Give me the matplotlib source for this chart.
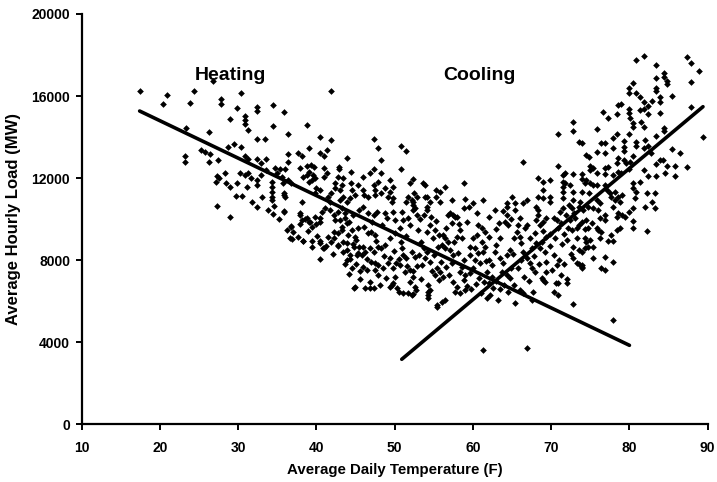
import matplotlib
matplotlib.use("Agg")
import matplotlib.pyplot as plt

plt.rcParams['font.family'] = ['Liberation Sans', 'DejaVu Sans']
plt.rcParams['font.weight'] = 'bold'

# cold days (heating side)
cold_temp = [
    17.4, 20.4, 20.9, 24.3, 23.8, 26.8, 27.8, 27.8, 30.3, 29.9, 32.4, 32.4, 34.4, 35.9, 41.9,
    28.9, 30.9, 30.9, 30.9, 31.3, 23.3, 26.3, 34.4, 36.4, 38.8, 40.5, 41.9, 28.7, 29.4, 30.3,
    32.4, 33.4, 25.3, 25.8, 26.4, 23.2, 23.2, 26.3, 27.4, 30.9, 31.3, 32.4, 32.9, 33.6, 36.3,
    37.7, 38.1, 39.0, 40.4, 40.9, 43.9, 27.3, 27.6, 28.3, 27.2, 28.5, 28.9, 29.8, 30.2, 30.9,
    31.3, 31.6, 32.4, 32.4, 32.9, 33.6, 34.3, 34.3, 34.3, 34.3, 34.3, 34.7, 34.9, 35.6, 35.7,
    36.3, 36.8, 35.8, 36.0, 35.8, 34.4, 32.4, 31.7, 30.5, 29.7, 27.3, 28.9, 36.8, 37.0, 37.9,
    38.1, 38.8, 39.2, 36.9, 38.3, 39.4, 40.5,
    47.4, 47.9, 48.3, 50.8, 51.4, 50.8, 41.4, 42.9, 42.9, 44.4, 45.9, 46.8, 47.4, 48.3, 36.4,
    35.3, 36.0, 37.9, 38.8, 39.3, 39.7, 39.0, 39.5, 39.8, 40.9, 41.3, 40.9, 42.8, 43.4, 42.4,
    43.2, 42.4, 43.0, 44.4, 45.3, 45.9, 44.6, 44.9, 44.3, 46.1, 46.6, 47.4, 47.9, 47.5, 48.3,
    49.4, 49.8, 49.4, 49.8, 49.6, 51.9, 52.4, 52.5, 52.8, 52.4, 35.8, 38.1, 38.3, 38.8, 39.4,
    39.0, 40.0, 40.5, 39.8, 41.5, 41.9, 41.7, 43.4, 43.0, 43.9, 47.5, 48.8, 49.2, 51.5, 51.7,
    34.6, 33.8, 33.1, 31.1, 35.2, 36.2,
]
cold_load = [
    16270, 15620, 16060, 16270, 15680, 16740, 15880, 15620, 16140, 15410, 15490, 15290, 15570, 15240, 16270,
    14870, 15050, 14840, 14640, 14350, 14460, 14270, 14540, 14150, 14580, 13990, 13860, 13530, 13670, 13530,
    13890, 13890, 13370, 13290, 13180, 13080, 12770, 12770, 12890, 13080, 12920, 12920, 12730, 12920, 13180,
    13210, 13080, 13490, 13240, 13080, 12970, 12120, 12010, 12270, 11830, 11750, 11590, 11750, 12240, 12160,
    12240, 11990, 11910, 11670, 12160, 12400, 11830, 11590, 11340, 11100, 10940, 12480, 12240, 12070, 11780,
    11910, 11780, 11260, 11100, 10410, 10250, 10610, 10850, 11150, 11150, 10660, 10120, 9630, 9390, 10290,
    9960, 10040, 9880, 9020, 8950, 8950, 8950,
    13930, 13490, 12890, 13580, 13330, 12430, 13370, 12560, 12450, 12320, 12040, 12270, 12430, 12270, 12800,
    12430, 12430, 12480, 12590, 12640, 12530, 12320, 12160, 11990, 12480, 12270, 12070, 12070, 11990, 11750,
    11670, 11510, 11420, 11750, 11670, 11420, 11420, 11180, 11020, 11180, 11100, 11670, 11830, 11420, 11260,
    11910, 11590, 11340, 11020, 10850, 11780, 11950, 11260, 11100, 10850, 11180, 10850, 12070, 12160, 11910,
    11830, 11510, 11420, 11260, 11100, 11260, 10850, 11100, 10940, 10850, 11180, 11510, 11100, 10850, 11100,
    10650, 10450, 11100, 11550, 10000, 9450,
]

# cool-to-mild days, lower part of the heating cloud
mild_temp = [
    35.9, 37.9, 38.5, 39.0, 36.8, 37.9, 39.4, 40.0, 40.5, 39.8, 40.5, 40.7, 41.1, 41.7, 42.2,
    42.8, 43.2, 43.6, 42.4, 43.0, 43.6, 44.1, 44.7, 45.4, 45.9, 46.6, 47.3, 47.7, 48.8, 49.0,
    49.8, 50.0, 50.9, 51.7, 52.4, 52.8, 36.6, 38.3, 39.4, 40.5, 40.4, 40.9, 41.5, 42.2, 42.8,
    43.2, 42.2, 42.8, 43.4, 43.9, 44.3, 43.9, 44.9, 44.7, 45.5, 46.0, 46.2, 45.3, 45.8, 46.0,
    46.4, 44.9, 46.2, 46.8, 47.3, 46.6, 47.0, 47.5, 46.8, 47.3, 47.9, 48.3, 48.8, 47.0, 47.5,
    47.9, 47.5, 47.9, 48.5, 49.2, 49.4, 49.8, 50.0, 49.6, 50.3, 50.5, 49.4, 50.0, 50.7, 50.9,
    51.1, 51.5, 52.2, 52.6, 50.7, 51.3, 51.9, 52.4, 51.9, 51.7, 52.4, 52.6, 44.5, 45.3, 43.2,
    43.9, 41.9, 42.8, 43.4, 43.9, 44.3, 44.8, 45.2, 44.8, 40.8, 49.4, 49.8, 51.1, 52.2,
    44.2, 45.0, 45.6, 46.9, 48.1, 48.9, 50.2, 50.8, 51.4, 52.0, 48.4, 47.1, 46.1, 45.1, 44.0,
    47.6, 48.6, 49.9, 50.6, 51.6, 52.3, 46.5, 45.6, 44.6, 43.6, 42.1, 41.2, 40.1, 38.9, 37.6,
]
mild_load = [
    10370, 10210, 10010, 9880, 9680, 9750, 9630, 9750, 9880, 10120, 10040, 10370, 10530, 10450, 10210,
    10370, 10530, 10290, 9960, 9960, 10040, 9880, 10210, 10450, 10610, 10290, 10210, 10370, 10290, 10040,
    10370, 9960, 10370, 10040, 10450, 10210, 9070, 8940, 8660, 8830, 8060, 8580, 9150, 9390, 9310,
    9470, 9070, 8740, 8900, 8500, 8260, 8010, 9150, 8780, 8660, 8660, 8420, 8340, 8260, 7690,
    7520, 6710, 6660, 6660, 6660, 9310, 9390, 9230, 8580, 8420, 8660, 8580, 8740, 7930, 7850,
    7770, 7520, 7280, 7610, 7850, 8090, 7610, 7200, 6790, 6630, 6470, 9070, 9310, 9560, 8580,
    8260, 8090, 8420, 8170, 7770, 7440, 7520, 7200, 6950, 6390, 6340, 6710, 9470, 9560, 9630,
    9800, 8900, 8690, 8420, 8830, 8050, 8660, 8260, 6660, 8580, 6710, 6880, 6390, 6300,
    7350, 7800, 7100, 6950, 6800, 7150, 7850, 8900, 9200, 9700, 9700, 9850, 9600, 9000, 9250,
    8950, 8200, 8450, 8050, 7700, 7450, 8050, 7450, 7600, 7800, 8300, 8700, 9200, 9400, 9150,
]

# mild days around the balance point
balance_temp = [
    54.1, 53.7, 56.8, 57.7, 57.3, 58.8, 58.3, 57.9, 58.6, 54.5, 55.1, 55.6, 54.9, 54.1, 56.2,
    56.4, 56.8, 56.0, 56.4, 57.1, 57.5, 53.7, 54.1, 53.9, 54.5, 53.5, 55.4, 55.8, 55.2, 56.2,
    55.6, 54.3, 54.5, 54.3, 55.4, 56.0, 56.4, 57.5, 57.9, 57.7, 58.3, 59.0, 58.3, 59.0, 59.6,
    60.0, 58.8, 59.6, 60.3, 60.9, 60.0, 60.5, 61.1, 61.5, 60.3, 60.7, 61.1, 61.5, 62.0, 61.3,
    62.0, 62.4, 61.8, 62.4, 62.0, 62.6, 62.2, 63.0, 63.5, 62.8, 63.5, 63.9, 64.3, 64.7, 63.7,
    64.3, 64.7, 65.2, 64.5, 65.4, 65.2, 65.6, 66.0, 66.2, 64.1, 64.3, 64.5, 66.0, 66.6, 66.9,
    65.4, 64.3, 67.3, 67.9, 68.1, 67.5, 66.9, 67.3, 67.5, 67.9, 66.4, 66.2, 66.0, 66.4, 67.5,
    68.1, 68.3, 68.6, 69.0, 69.4, 68.8, 69.4, 69.2, 69.4, 69.4, 68.8, 69.2, 70.3, 70.7, 70.9,
    70.5, 70.3, 70.7, 70.9, 70.3, 70.9, 61.3, 66.9, 68.3, 68.1, 71.1, 71.5, 53.6, 53.9, 55.3,
    55.8, 56.4, 53.9, 55.3, 55.8, 57.3, 58.8, 61.3, 64.3, 65.0, 65.4, 66.4, 66.9, 66.4, 68.3,
    68.9, 69.8, 68.9, 68.3, 68.9, 69.8, 69.8, 70.9, 70.9, 71.5, 71.5, 71.5, 71.5, 71.5, 52.2,
    52.4, 52.6, 54.1, 54.5, 54.1, 57.1, 57.5, 57.9, 61.8, 63.2, 54.3, 54.3, 55.4, 67.7, 69.0,
    53.0, 53.3, 53.1, 52.9, 53.4, 52.7, 54.8, 55.0, 55.5, 55.9, 56.6, 56.9, 57.3, 57.6, 58.1,
    58.6, 58.9, 59.3, 59.8, 60.4, 60.8, 61.4, 61.0, 61.7, 60.6, 59.3, 59.6, 58.2, 56.5, 55.3,
    54.7, 53.2, 51.0, 62.9, 63.3, 63.8, 64.9, 65.8, 65.1, 65.8, 66.5, 67.1, 67.8, 68.4, 68.6,
    69.0, 69.8, 69.9, 70.1, 70.6, 71.2, 71.0, 71.4, 71.7, 71.3, 71.9, 72.3, 72.9, 72.5, 71.6,
    64.0, 63.4, 63.0, 64.9, 62.0, 62.8, 60.5, 59.5, 60.0, 59.0,
]
balance_load = [
    10450, 10210, 10210, 10120, 9800, 10530, 9470, 9150, 9070, 9720, 9470, 9230, 9070, 9390, 9230,
    9070, 8900, 8740, 8580, 8500, 8260, 8580, 8420, 8090, 7930, 7770, 7610, 7440, 7280, 7200,
    7040, 6790, 6550, 6300, 5820, 5980, 6060, 6950, 6710, 6470, 6390, 6550, 7440, 7280, 7360,
    7610, 8010, 8260, 8010, 7850, 9070, 9230, 8900, 8660, 8580, 8340, 9560, 9390, 9150, 8420,
    8010, 7770, 7440, 7200, 6880, 6630, 6300, 8740, 9070, 8420, 8090, 7850, 8260, 8500, 7440,
    7280, 7120, 6790, 6470, 5900, 9070, 9390, 9150, 8830, 9880, 10210, 9720, 10040, 9560, 9720,
    10450, 10610, 9070, 9310, 8830, 8580, 8090, 7850, 7610, 7440, 8420, 8010, 6550, 6390, 6060,
    9960, 10210, 9720, 9880, 10040, 8900, 9150, 8420, 7930, 7440, 7120, 6950, 10040, 9960, 9560,
    9070, 8260, 7770, 6880, 6470, 6300, 3620, 3710, 10450, 10610, 10370, 10530, 11780, 11670, 11420,
    11340, 11560, 11070, 11100, 10850, 10940, 11750, 10940, 10780, 11100, 10810, 10810, 10940, 12800, 11990,
    11830, 11910, 11420, 11100, 11020, 11100, 10850, 14140, 12590, 12160, 11830, 11590, 11340, 11020, 10940,
    10690, 10530, 11100, 10850, 10610, 10290, 10210, 10120, 6140, 6060, 6470, 6140, 5740, 6470, 7040,
    9450, 8900, 8250, 7700, 7100, 6550, 7450, 8250, 8650, 7900, 7650, 7300, 7850, 8900, 8350,
    7650, 7050, 6750, 6600, 6850, 7150, 6950, 6400, 7950, 9700, 9850, 8650, 9750, 9550, 9900,
    10100, 10000, 9950, 9500, 9800, 10400, 10000, 9700, 8300, 7600, 7200, 7000, 8200, 7800, 8600,
    9400, 9300, 8700, 7500, 6900, 7300, 8000, 8800, 9300, 9800, 10200, 10700, 10300, 8300, 7800,
    6800, 6600, 7000, 7600, 10100, 10450, 10300, 10600, 10800, 11000,
]

# hot days (cooling side)
hot_temp = [
    80.9, 81.9, 87.4, 87.9, 88.9, 83.4, 84.4, 84.4, 84.8, 84.8, 83.4, 87.9, 80.4, 79.9, 79.9,
    83.4, 83.4, 80.8, 81.4, 81.9, 82.4, 82.9, 83.9, 83.9, 85.4, 87.9, 78.6, 78.9, 79.9, 79.9,
    80.1, 80.5, 80.5, 81.4, 81.9, 82.4, 81.5, 81.9, 83.9, 76.6, 77.3, 78.4, 72.8, 72.8, 75.9,
    78.4, 77.9, 79.3, 79.3, 79.3, 79.9, 80.9, 80.9, 82.0, 83.4, 84.4, 84.4, 85.4, 86.4, 89.4,
    73.5, 73.9, 76.4, 76.9, 77.9, 75.9, 74.4, 74.8, 76.9, 78.6, 79.3, 80.5, 80.1, 81.9, 82.4,
    82.8, 83.4, 83.9, 84.3, 84.8, 85.8, 87.4, 83.4, 84.5, 85.8, 75.0, 75.0, 75.4, 75.8, 76.9,
    76.9, 77.3, 77.9, 78.4, 78.6, 78.9, 79.6, 79.9, 81.8, 82.4, 71.8, 72.8, 73.9, 73.9, 74.3,
    74.5, 75.0, 75.4, 75.8, 71.8, 72.4, 72.8, 73.9, 74.8, 76.9, 77.1, 77.5, 78.2, 78.6, 79.0,
    80.5, 80.5, 80.9, 81.4, 80.7, 82.2, 83.3, 82.9, 72.8, 73.7, 75.8, 76.2, 77.7, 78.2, 78.8,
    72.6, 73.5, 74.1, 74.7, 75.4, 76.0, 77.9, 78.6, 79.0, 78.4, 79.4, 79.9, 80.5, 82.0, 83.3,
    80.4, 80.4, 82.3, 76.9, 76.9, 76.2, 72.4, 73.0, 73.5, 73.9, 74.5, 75.2, 75.8, 76.0, 76.4,
    72.2, 72.6, 73.3, 74.3, 74.7, 72.0, 73.3, 74.3, 74.5, 75.0, 72.8, 73.5, 73.9, 74.3, 74.7,
    75.4, 76.2, 77.3, 77.9, 77.7, 78.4, 78.8, 72.8, 73.5, 73.9, 73.9, 76.9, 77.9, 76.4, 76.9,
    72.0, 72.8, 77.9, 72.0, 75.4, 73.3, 73.9,
]
hot_load = [
    17760, 17960, 17890, 17630, 17240, 17520, 17140, 16920, 16750, 16580, 16870, 16670, 16650, 16410, 16170,
    16380, 16270, 16170, 15940, 15730, 15520, 15780, 15940, 15730, 16020, 15490, 15570, 15600, 15360, 15160,
    14920, 14680, 14510, 15320, 15360, 15130, 14750, 14510, 15160, 15230, 14920, 15130, 14750, 14310, 14380,
    14150, 13940, 13830, 13530, 13340, 14150, 13750, 13580, 13860, 14060, 14430, 14310, 13410, 13240, 13980,
    13760, 13730, 13700, 13700, 13460, 13290, 13130, 13050, 13240, 12970, 12890, 13080, 12800, 13460, 13570,
    13210, 12680, 12890, 12890, 12610, 12610, 12530, 12110, 12270, 12110, 12590, 12400, 12480, 12240, 12480,
    12200, 12560, 12160, 12730, 12320, 12240, 12730, 12430, 12400, 12110, 12240, 12200, 12200, 11950, 11750,
    11910, 11750, 11670, 11670, 11750, 11670, 11340, 11340, 11260, 11670, 11420, 11260, 11340, 11100, 11180,
    11750, 11510, 11340, 11830, 11020, 11260, 11290, 10850, 10940, 10850, 10940, 10810, 11100, 10940, 10850,
    10530, 10610, 10450, 10610, 10530, 10450, 10610, 10290, 10210, 10120, 10120, 10370, 10530, 10610, 10530,
    9910, 9560, 9430, 10210, 9960, 10040, 9960, 10040, 9720, 9880, 9960, 9800, 9560, 9470, 9390,
    9560, 9470, 9560, 9520, 9560, 8990, 9070, 9070, 8900, 8990, 8660, 8500, 8420, 8580, 8660,
    8660, 9070, 8940, 8940, 9230, 9470, 9560, 8090, 7800, 7690, 7610, 8170, 7900, 7640, 7520,
    7090, 5850, 5090, 6880, 8090, 7850, 7770,
]

# fitted lines
heating_fit_temp = [17.4, 80.0]
heating_fit_load = [15270, 3850]
cooling_fit_temp = [50.9, 89.4]
cooling_fit_load = [3170, 15480]

x_ticks = [10, 20, 30, 40, 50, 60, 70, 80, 90]
y_ticks = [0, 4000, 8000, 12000, 16000, 20000]

fig = plt.figure(figsize=(7.17, 4.82), dpi=100)
ax = fig.add_axes([0.114, 0.1197, 0.873, 0.8513])

for t, l in [(cold_temp, cold_load), (mild_temp, mild_load),
             (balance_temp, balance_load), (hot_temp, hot_load)]:
    ax.plot(t, l, linestyle='none', marker='D', markersize=3.4,
            color='black', markeredgewidth=0)

ax.plot(heating_fit_temp, heating_fit_load, color='black', linewidth=2.6,
        solid_capstyle='round')
ax.plot(cooling_fit_temp, cooling_fit_load, color='black', linewidth=2.6,
        solid_capstyle='round')

ax.text(29.0, 16790, 'Heating', fontsize=14, fontweight='bold',
        ha='center', va='baseline')
ax.text(60.8, 16790, 'Cooling', fontsize=14, fontweight='bold',
        ha='center', va='baseline')

ax.set_xlim(10, 90)
ax.set_ylim(0, 20000)
ax.set_xticks(x_ticks)
ax.set_yticks(y_ticks)
ax.set_xticklabels([str(v) for v in x_ticks], fontweight='bold')
ax.set_yticklabels([str(v) for v in y_ticks], fontweight='bold')
ax.tick_params(axis='both', direction='out', length=4.3, width=1.4,
               labelsize=10, color='black')
ax.tick_params(axis='x', pad=8)
ax.tick_params(axis='y', pad=4)

for side in ['top', 'right']:
    ax.spines[side].set_visible(False)
for side in ['left', 'bottom']:
    ax.spines[side].set_linewidth(1.6)
    ax.spines[side].set_color('black')

ax.set_xlabel('Average Daily Temperature (F)', fontsize=10.8, fontweight='bold')
ax.set_ylabel('Average Hourly Load (MW)', fontsize=12, fontweight='bold')
ax.xaxis.set_label_coords(0.5, -0.094)
ax.yaxis.set_label_coords(-0.097, 0.5)

fig.savefig('out.png', dpi=100, facecolor='white')
